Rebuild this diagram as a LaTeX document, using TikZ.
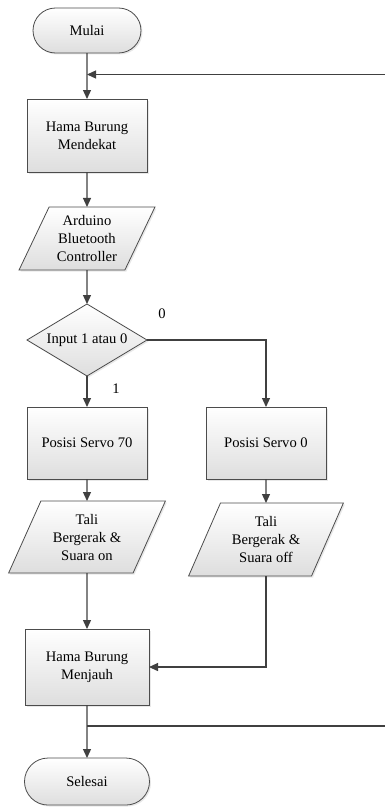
\documentclass[tikz,border=0pt]{standalone}
\usepackage{fontspec}
\setmainfont{Liberation Serif}
\usetikzlibrary{positioning, shapes.geometric, shapes.misc, arrows.meta, shadows}
\tikzset{
	boxfill/.style ={top color=white, bottom color=black!13},
	every node/.append style={
		font=\fontsize{14.6}{18}\selectfont,
		outer sep=0pt,
	},
	shape box/.append style={
		draw=black!70,
		line width=0.8pt,
		boxfill,
		align = center,
		inner sep=1pt,
		drop shadow={opacity=0.18, shadow xshift=1.5pt, shadow yshift=-1.5pt},
	},
	terminal/.append style={
		shape box,
		rounded rectangle,
	},
	process/.append style={
		shape box,
		rectangle,
		minimum width=120pt,
		minimum height=73pt,
	},
	io/.append style={
		shape box,
		trapezium,
		trapezium left angle=63,
		trapezium right angle=117,
		trapezium stretches=true,
		minimum width=157pt,
		minimum height=72pt,
	},
	decision/.append style={
		shape box,
		diamond,
		aspect=1.667,
		inner sep=0pt,
		minimum width=120pt,
		minimum height=72pt,
	},
	link/.append style={
		draw=black!75,
		line width=1.2pt,
	}
}

\begin{document}
\begin{tikzpicture}[x=1pt, y=-1pt, >={Triangle[length=9pt,width=8pt]}]
\useasboundingbox (0,0) rectangle (385,808);

\node(start)[terminal, minimum width=110pt, minimum height=45pt] at (87,30.5) {Mulai};
\node(come)[process, below = 46pt of start]{Hama Burung\\Mendekat};
\node(ctrl)[io, below = 35pt of come, minimum width=136pt, minimum height=63pt]{Arduino\\Bluetooth\\Controller};
\node(decide)[decision, below = 34pt of ctrl]{Input 1 atau 0};
\node(servoOn)[process, below = 31pt of decide, minimum height=72pt]{Posisi Servo 70};
\node(servoOff)[process, right = 59pt of servoOn, minimum height=72pt]{Posisi Servo 0};
\node(taliOn)[io, below = 22pt of servoOn]{Tali\\Bergerak \&\\Suara on};
\node(taliOff)[io, below = 24pt of servoOff, minimum width=155pt, minimum height=73pt]{Tali\\Bergerak \&\\Suara off};
\node(away)[process, below = 56pt of taliOn, minimum width=124pt, minimum height=76pt]{Hama Burung\\Menjauh};
\node(stop)[terminal, below = 53pt of away, minimum width=127pt, minimum height=47pt]{Selesai};

\node(lblZero) at (162,314) {0};
\node(lblOne) at (116,389) {1};

% loop ends (cut at the right edge)
\coordinate (loopR1) at (385,74.5);
\coordinate (loopR2) at (385,726);

\draw[link, ->] (start) -- (come);
\draw[link, ->] (loopR1) -- (come.north |- loopR1);
\draw[link, ->] (come) -- (ctrl);
\draw[link, ->] (ctrl) -- (decide);
\draw[link, ->] (decide) -- (servoOn);
\draw[link, ->] (decide.east) -| (servoOff.north);
\draw[link, ->] (servoOn) -- (taliOn);
\draw[link, ->] (servoOff) -- (taliOff);
\draw[link, ->] (taliOn) -- (away);
\draw[link, ->] (taliOff.south) |- (away.east);
\draw[link, ->] (away) -- (stop);
\draw[link] (away.south |- loopR2) -- (loopR2);

\end{tikzpicture}
\end{document}
